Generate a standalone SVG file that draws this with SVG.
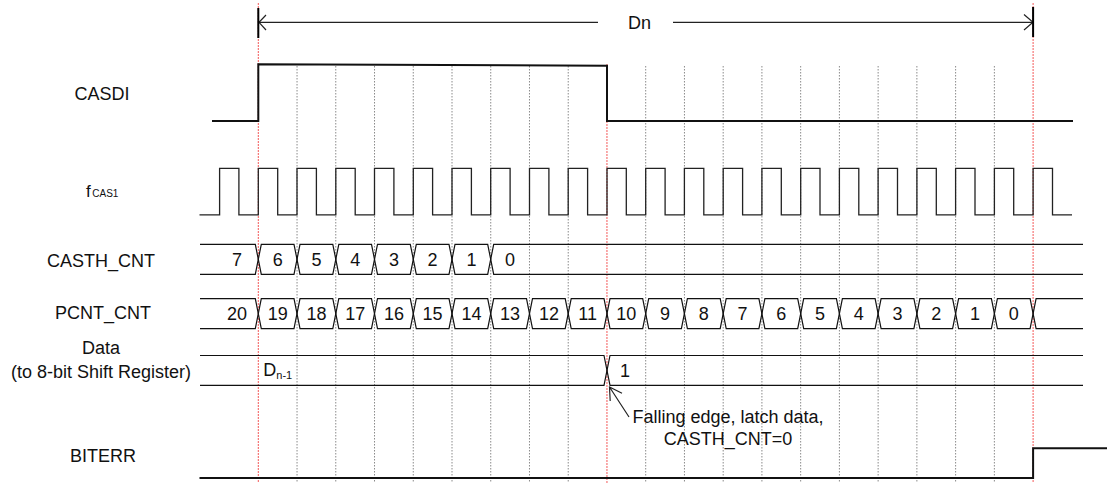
<svg xmlns="http://www.w3.org/2000/svg" width="1107" height="483" viewBox="0 0 1107 483">
<style>
text{font-family:"Liberation Sans",Arial,sans-serif;font-size:18px;fill:#111}
.lbl{text-anchor:middle}
.val{text-anchor:middle}
.grid{stroke:#8a8a8a;stroke-width:1;stroke-dasharray:1.5,1.5;fill:none}
.red{stroke:#f03030;stroke-width:1;stroke-dasharray:2,1;fill:none;opacity:0.8}
.bus{stroke:#111;stroke-width:1.2;fill:none}
.sig{stroke:#222;stroke-width:1.3;fill:none}
.thick{stroke:#111;stroke-width:2;fill:none}
.arr{stroke:#222;stroke-width:1.2;fill:none}
</style>
<rect width="1107" height="483" fill="#fff"/>
<g id="gridlines">
<path class="grid" d="M297.04,66V483M335.78,66V483M374.52,66V483M413.26,66V483M452,66V483M490.74,66V483M529.48,66V483M568.22,66V483M645.7,66V483M684.44,66V483M723.18,66V483M761.92,66V483M800.66,66V483M839.4,66V483M878.14,66V483M916.88,66V483M955.62,66V483M994.36,66V483"/>
<path class="red" d="M258.3,3V483M606.96,64V483M1033.1,3V483"/>
</g>
<g id="labels">
<text class="lbl" x="102" y="100">CASDI</text>
<text x="86" y="196.7"><tspan font-size="17">f</tspan><tspan font-size="10" dx="1.5">CAS1</tspan></text>
<text class="lbl" x="101" y="267.3">CASTH_CNT</text>
<text class="lbl" x="103" y="319.3">PCNT_CNT</text>
<text class="lbl" x="101" y="354">Data</text>
<text class="lbl" x="101" y="377.7">(to 8-bit Shift Register)</text>
<text class="lbl" x="103" y="462.3">BITERR</text>
</g>
<g id="dn-span">
<path class="arr" d="M259,22.3H598M673,22.3H1033"/>
<path class="arr" d="M266,15L259,22.3L266,30M1024,14.5L1033,22.3L1024,30"/>
<path stroke="#000" stroke-width="2" d="M258.3,8V38M1033.1,7V37"/>
<text x="628" y="28.5">Dn</text>
</g>
<g id="casdi">
<path class="thick" d="M212,121H258.3V64.3L607,65.7V121H1073"/>
</g>
<g id="fcas1">
<path class="sig" d="M199.5,214.8H219.6V168.3H238.9V214.8H258.3V168.3H277.7V214.8H297V168.3H316.4V214.8H335.8V168.3H355.2V214.8H374.5V168.3H393.9V214.8H413.3V168.3H432.6V214.8H452V168.3H471.4V214.8H490.7V168.3H510.1V214.8H529.5V168.3H548.9V214.8H568.2V168.3H587.6V214.8H607V168.3H626.3V214.8H645.7V168.3H665.1V214.8H684.4V168.3H703.8V214.8H723.2V168.3H742.6V214.8H761.9V168.3H781.3V214.8H800.7V168.3H820V214.8H839.4V168.3H858.8V214.8H878.1V168.3H897.5V214.8H916.9V168.3H936.3V214.8H955.6V168.3H975V214.8H994.4V168.3H1013.7V214.8H1033.1V168.3H1052.5V214.8H1072"/>
</g>
<g id="casth_cnt">
<path class="bus" d="M200,244.3H255.3L261.3,274.3H294L300,244.3H332.8L338.8,274.3H371.5L377.5,244.3H410.3L416.3,274.3H449L455,244.3H487.7L493.7,274.3H1083"/>
<path class="bus" d="M200,274.3H255.3L261.3,244.3H294L300,274.3H332.8L338.8,244.3H371.5L377.5,274.3H410.3L416.3,244.3H449L455,274.3H487.7L493.7,244.3H1083"/>
<text class="val" x="237" y="265.7">7</text>
<text class="val" x="277.7" y="265.7">6</text>
<text class="val" x="316.4" y="265.7">5</text>
<text class="val" x="355.2" y="265.7">4</text>
<text class="val" x="393.9" y="265.7">3</text>
<text class="val" x="432.6" y="265.7">2</text>
<text class="val" x="471.4" y="265.7">1</text>
<text class="val" x="510.1" y="265.7">0</text>
</g>
<g id="pcnt_cnt">
<path class="bus" d="M200,298.7H255.3L261.3,328.7H294L300,298.7H332.8L338.8,328.7H371.5L377.5,298.7H410.3L416.3,328.7H449L455,298.7H487.7L493.7,328.7H526.5L532.5,298.7H565.2L571.2,328.7H604L610,298.7H642.7L648.7,328.7H681.4L687.4,298.7H720.2L726.2,328.7H758.9L764.9,298.7H797.7L803.7,328.7H836.4L842.4,298.7H875.1L881.1,328.7H913.9L919.9,298.7H952.6L958.6,328.7H991.4L997.4,298.7H1030.1L1036.1,328.7H1083"/>
<path class="bus" d="M200,328.7H255.3L261.3,298.7H294L300,328.7H332.8L338.8,298.7H371.5L377.5,328.7H410.3L416.3,298.7H449L455,328.7H487.7L493.7,298.7H526.5L532.5,328.7H565.2L571.2,298.7H604L610,328.7H642.7L648.7,298.7H681.4L687.4,328.7H720.2L726.2,298.7H758.9L764.9,328.7H797.7L803.7,298.7H836.4L842.4,328.7H875.1L881.1,298.7H913.9L919.9,328.7H952.6L958.6,298.7H991.4L997.4,328.7H1030.1L1036.1,298.7H1083"/>
<text class="val" x="237" y="320">20</text>
<text class="val" x="277.7" y="320">19</text>
<text class="val" x="316.4" y="320">18</text>
<text class="val" x="355.2" y="320">17</text>
<text class="val" x="393.9" y="320">16</text>
<text class="val" x="432.6" y="320">15</text>
<text class="val" x="471.4" y="320">14</text>
<text class="val" x="510.1" y="320">13</text>
<text class="val" x="548.9" y="320">12</text>
<text class="val" x="587.6" y="320">11</text>
<text class="val" x="626.3" y="320">10</text>
<text class="val" x="665.1" y="320">9</text>
<text class="val" x="703.8" y="320">8</text>
<text class="val" x="742.6" y="320">7</text>
<text class="val" x="781.3" y="320">6</text>
<text class="val" x="820" y="320">5</text>
<text class="val" x="858.8" y="320">4</text>
<text class="val" x="897.5" y="320">3</text>
<text class="val" x="936.3" y="320">2</text>
<text class="val" x="975" y="320">1</text>
<text class="val" x="1013.7" y="320">0</text>
</g>
<g id="data">
<path class="bus" d="M200,355.5H604L610,385.3H1083"/>
<path class="bus" d="M200,385.3H604L610,355.5H1083"/>
<text x="263.3" y="375.7">D<tspan font-size="11" dy="3.6">n-1</tspan></text>
<text class="val" x="625" y="377">1</text>
</g>
<g id="biterr">
<path class="thick" stroke-width="1.6" d="M199.5,478H1033.1V448.3H1107"/>
</g>
<g id="connectors">
<path class="arr" stroke="#000" stroke-width="1.5" d="M629,417L609.5,387M622,393.3L609.5,387L610.2,401"/>
</g>
<g id="annotation">
<text class="lbl" x="728" y="423.3">Falling edge, latch data,</text>
<text class="lbl" x="728" y="445">CASTH_CNT=0</text>
</g>
</svg>
